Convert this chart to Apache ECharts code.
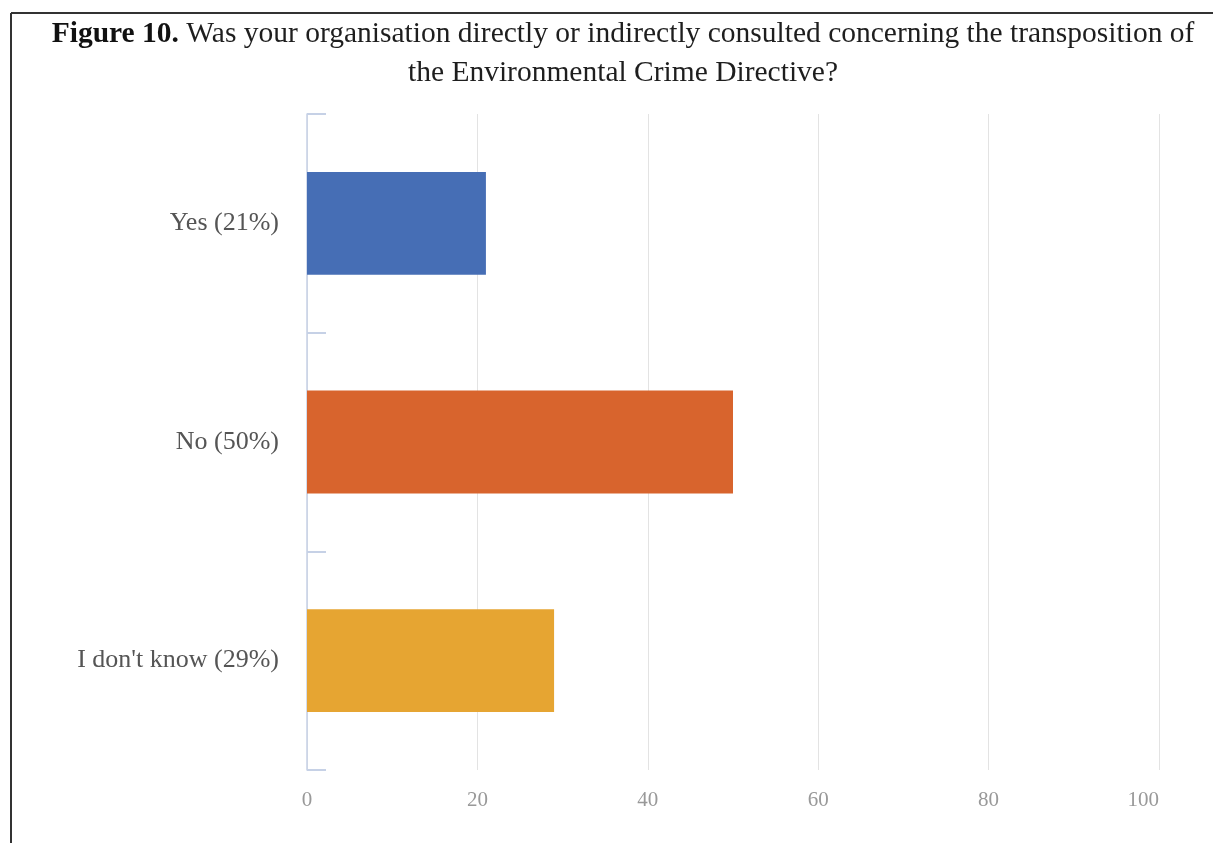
<!DOCTYPE html>
<html>
<head>
<meta charset="utf-8">
<script src="https://cdn.jsdelivr.net/npm/echarts@6/dist/echarts.min.js"></script>
<style>
  html, body { margin: 0; padding: 0; background: #fff; }
  #chart { width: 1213px; height: 843px; }
</style>
</head>
<body>
<div id="chart"></div>
<script>
// answers and their shares (%)
const categories = ['Yes (21%)', 'No (50%)', "I don't know (29%)"]
const values = [21, 50, 29]
const barColors = ['#466EB5', '#D8642D', '#E6A532']
const xTicks = [0, 20, 40, 60, 80, 100]

const chart = echarts.init(document.getElementById('chart'))

const option = {
  animation: false,
  backgroundColor: '#fff',
  textStyle: { fontFamily: '"Liberation Serif", "Times New Roman", serif' },
  title: {
    text: '{b|Figure 10.} Was your organisation directly or indirectly consulted concerning the transposition of\nthe Environmental Crime Directive?',
    left: 618,
    top: 10,
    textAlign: 'center',
    textStyle: {
      fontFamily: '"Liberation Serif", serif',
      fontSize: 29.5,
      fontWeight: 'normal',
      color: '#1e1e1e',
      lineHeight: 39,
      rich: {
        b: { fontFamily: '"Liberation Serif", serif', fontSize: 29.5, fontWeight: 'bold', color: '#111', lineHeight: 39 }
      }
    }
  },
  graphic: [
    // frame round the figure (top and left edges are visible)
    { type: 'line', shape: { x1: 11, y1: 13, x2: 1213, y2: 13 }, style: { stroke: '#333', lineWidth: 2 } },
    { type: 'line', shape: { x1: 11, y1: 13, x2: 11, y2: 843 }, style: { stroke: '#333', lineWidth: 2 } }
  ],
  grid: {
    left: 307,
    right: 54,
    top: 114,
    bottom: 73
  },
  xAxis: {
    type: 'value',
    min: 0,
    max: 100,
    interval: 20,
    axisLine: { show: false },
    axisTick: { show: false },
    splitLine: { show: true, lineStyle: { color: '#e3e3e3', width: 1 } },
    axisLabel: {
      color: '#999',
      fontSize: 21,
      margin: 20,
      fontFamily: '"Liberation Serif", serif',
      alignMaxLabel: 'right',
      formatter: function (v) { return xTicks.indexOf(v) >= 0 ? String(v) : '' }
    }
  },
  yAxis: {
    type: 'category',
    inverse: true,
    data: categories,
    axisLine: { show: true, lineStyle: { color: '#c6d1e6', width: 1.5 } },
    axisTick: { show: true, inside: true, length: 19, lineStyle: { color: '#c6d1e6', width: 2 } },
    axisLabel: {
      color: '#555',
      fontSize: 26,
      margin: 28,
      fontFamily: '"Liberation Serif", serif'
    }
  },
  series: [
    {
      type: 'bar',
      barWidth: '47%',
      data: values.map(function (v, i) {
        return { value: v, itemStyle: { color: barColors[i] } }
      })
    }
  ]
}

chart.setOption(option)
</script>
</body>
</html>
